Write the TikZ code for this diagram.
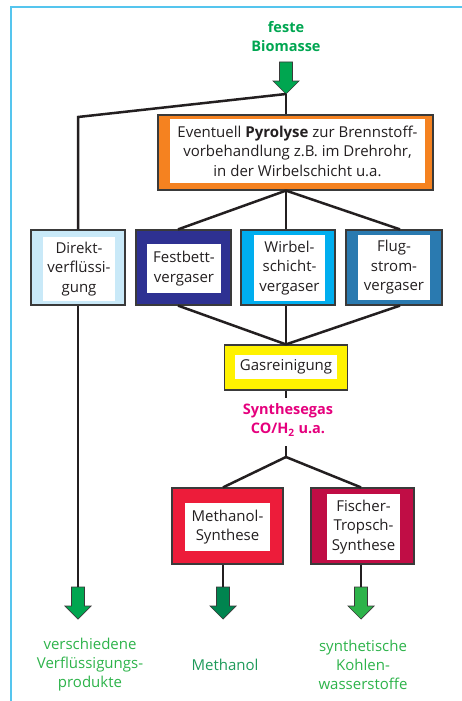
\documentclass[tikz,border=0pt]{standalone}
\usepackage{fontspec}
\setmainfont{Open Sans}
\usetikzlibrary{calc}
\definecolor{framecol}{HTML}{55C5EE}
\definecolor{linecol}{HTML}{231F20}
\definecolor{boxborder}{HTML}{3A3A3A}
\definecolor{direktcol}{HTML}{C9E9F8}
\definecolor{festcol}{HTML}{2E3192}
\definecolor{wirbelcol}{HTML}{00AEEF}
\definecolor{flugcol}{HTML}{2A7AB0}
\definecolor{gascol}{HTML}{FFF200}
\definecolor{methcol}{HTML}{ED1C3A}
\definecolor{fischcol}{HTML}{C00D45}
\definecolor{pyrocol}{HTML}{F58220}
\definecolor{magentacol}{HTML}{E5007D}
\definecolor{topgreen}{HTML}{00A651}
\definecolor{labelgreen}{HTML}{2DB34A}
\definecolor{methgreen}{HTML}{1E9A5A}
\definecolor{arrowA}{HTML}{00A650}
\definecolor{arrowB}{HTML}{00844F}
\definecolor{arrowC}{HTML}{2DB34A}
\definecolor{txtcol}{HTML}{231F20}
\tikzset{
  outerbox/.style={draw=boxborder, line width=1.2pt, rectangle, inner sep=0pt},
  innerbox/.style={fill=white, rectangle, inner sep=0pt, align=center, text=txtcol,
    font=\fontsize{15}{19.5}\selectfont},
  conn/.style={draw=linecol, line width=2.5pt},
  greenlabel/.style={align=center, font=\fontsize{15}{19}\selectfont, text=labelgreen},
  blockarrow/.pic={
    \path[draw=boxborder, line width=0.7pt, fill=#1, line join=miter]
      (-6.5,0) -- (6.5,0) -- (6.5,19) -- (13,19) -- (0,32) -- (-13,19) -- (-6.5,19) -- cycle;
    \coordinate (-top) at (0,0);
    \coordinate (-tip) at (0,32);
  }
}
\begin{document}
\begin{tikzpicture}[x=1pt,y=-1pt]
\useasboundingbox (0,0) rectangle (462,701);
\draw[framecol, line width=2pt] (11,701) -- (11,7) -- (462,7);

% title
\node[align=center, font=\bfseries\fontsize{14.5}{19}\selectfont, text=topgreen] (bio) at (286,37) {feste\\Biomasse};
\pic (a0) at (286,62) {blockarrow=arrowA};

% pyrolyse
\node[outerbox, fill=pyrocol, minimum width=275pt, minimum height=75pt] (pyro) at (295.5,152.5) {};
\node[innerbox, minimum width=255pt, minimum height=64pt] (pyroT) at (297.5,151)
  {Eventuell \textbf{Pyrolyse} zur Brennstoff-\\vorbehandlung z.B. im Drehrohr,\\in der Wirbelschicht u.a.};

% row 2
\node[outerbox, fill=direktcol, minimum width=94pt, minimum height=75pt] (direkt) at (78,267.5) {};
\node[innerbox, minimum width=72pt, minimum height=64pt] (direktT) at (79,269) {Direkt-\\verflüssi-\\gung};
\node[outerbox, fill=festcol, minimum width=95pt, minimum height=75pt] (fest) at (183.5,267.5) {};
\node[innerbox, minimum width=74pt, minimum height=49pt] (festT) at (184,268.5) {Festbett-\\vergaser};
\node[outerbox, fill=wirbelcol, minimum width=94pt, minimum height=75pt] (wirbel) at (288,267.5) {};
\node[innerbox, minimum width=71pt, minimum height=66pt] (wirbelT) at (289.5,268) {Wirbel-\\schicht-\\vergaser};
\node[outerbox, fill=flugcol, minimum width=96pt, minimum height=75pt] (flug) at (394,267.5) {};
\node[innerbox, minimum width=72pt, minimum height=65pt] (flugT) at (394,267.5) {Flug-\\strom-\\vergaser};

% Gasreinigung
\node[outerbox, fill=gascol, minimum width=123pt, minimum height=45pt] (gas) at (286,367.5) {};
\node[innerbox, minimum width=102pt, minimum height=24pt] (gasT) at (286,367) {Gasreinigung};

% Synthesegas
\node[align=center, font=\bfseries\fontsize{14.5}{19}\selectfont, text=magentacol] (syn) at (288,420)
  {Synthesegas\\CO/H\textsubscript{2} u.a.};
\coordinate (sj) at (286,446);
\coordinate (sk) at (286,457);

% synthesis boxes
\node[outerbox, fill=methcol, minimum width=111pt, minimum height=76pt] (meth) at (227.5,526) {};
\node[innerbox, minimum width=85pt, minimum height=48pt] (methT) at (227.5,527) {Methanol-\\Synthese};
\node[outerbox, fill=fischcol, minimum width=103pt, minimum height=76pt] (fisch) at (362.5,526) {};
\node[innerbox, minimum width=73pt, minimum height=66pt] (fischT) at (363.5,527) {Fischer-\\Tropsch-\\Synthese};

% bottom arrows
\pic (a1) at (78,587) {blockarrow=arrowA};
\pic (a2) at (223,587) {blockarrow=arrowB};
\pic (a3) at (361,587) {blockarrow=arrowC};

% labels
\node[greenlabel] (l1) at (90,665) {verschiedene\\Verflüssigungs-\\produkte};
\node[greenlabel, text=methgreen] (l2) at (225,665) {Methanol};
\node[greenlabel] (l3) at (363,665) {synthetische\\Kohlen-\\wasserstoffe};

% connectors
\coordinate (pj) at (a0-tip |- pyro.south);
\draw[conn] (a0-tip) -- (a0-tip |- pyro.north);
\draw[conn, line join=miter] (a0-tip) -- (78,117) -- (direkt.north);
\draw[conn] (pj) -- ([xshift=-5.5pt]fest.north);
\draw[conn] (pj) -- (pj |- wirbel.north);
\draw[conn] (pj) -- ([xshift=6pt]flug.north);
\draw[conn] ([xshift=-5.5pt]fest.south) -- (gas.north);
\draw[conn] (gas.north |- wirbel.south) -- (gas.north);
\draw[conn] ([xshift=6pt]flug.south) -- (gas.north);
\draw[conn] (gas.south) -- ++(0,7);
\draw[conn] (sj) -- (sk);
\draw[conn] (sk) -- ([xshift=-4.5pt]meth.north);
\draw[conn] (sk) -- ([xshift=-1.5pt]fisch.north);
\draw[conn] (direkt.south) -- (a1-top);
\draw[conn] (a2-top |- meth.south) -- (a2-top);
\draw[conn] (a3-top |- fisch.south) -- (a3-top);
\end{tikzpicture}
\end{document}
